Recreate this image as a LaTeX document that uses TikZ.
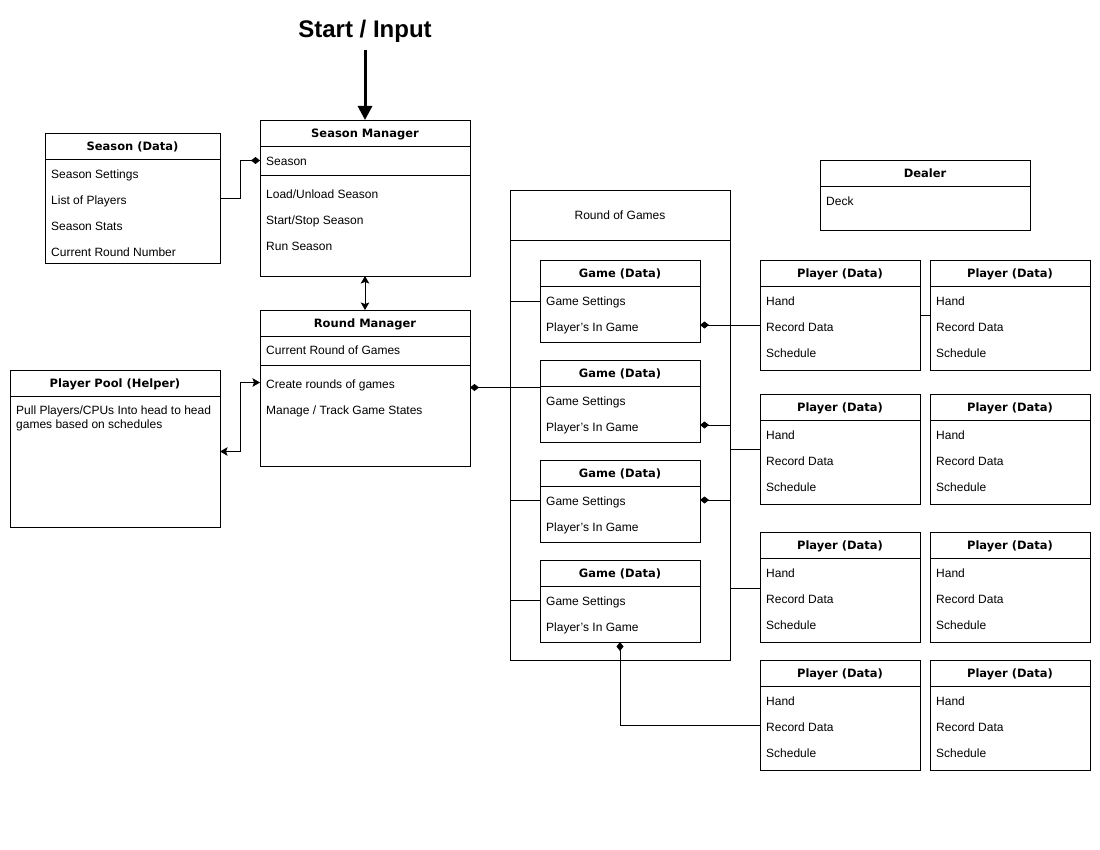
\documentclass[tikz,border=0pt]{standalone}
\usepackage{fontspec}
\setmainfont{Liberation Sans}
\newfontfamily\headfont{DejaVu Sans}
\usetikzlibrary{arrows.meta, positioning}

\begin{document}
\begin{tikzpicture}[x=1pt, y=-1pt,
    head/.style={draw, line width=0.9pt, fill=white, outer sep=0, inner sep=0, minimum height=26, text height=8.6pt, text depth=0pt, font=\headfont\bfseries\fontsize{11.5}{13}\selectfont},
    body/.style={draw, line width=0.9pt, fill=white, outer sep=0, inner sep=0},
    rows/.style={anchor=north west, inner sep=0, align=left, font=\fontsize{12}{26}\selectfont},
    link/.style={line width=0.9pt},
    owns/.style={link, {Diamond[length=9pt,width=7pt]}-},
    both/.style={link, {Stealth[length=7.5pt,width=8.5pt,inset=1.5pt]}-{Stealth[length=7.5pt,width=8.5pt,inset=1.5pt]}}
  ]
    \useasboundingbox (0,0) rectangle (1100,850);

    % entry point
    \node[font=\bfseries\fontsize{24}{28}\selectfont] (start) at (365,31) {Start / Input};

    % season side
    \node[head, minimum width=210, anchor=north west] (smh) at (260,120) {Season Manager};
    \node[body, minimum width=210, minimum height=29, below=0pt of smh] (sma) {};
    \node[body, minimum width=210, minimum height=101, below=0pt of sma] (smb) {};
    \node[rows] (smat) at ([xshift=6, yshift=-10.5]sma.north west) {Season};
    \node[rows] (smbt) at ([xshift=6, yshift=-14.5]smb.north west) {Load/Unload Season\\Start/Stop Season\\Run Season};

    \node[head, minimum width=175, anchor=north west] (sdh) at (45,133) {Season (Data)};
    \node[body, minimum width=175, minimum height=104, below=0pt of sdh] (sdb) {};
    \node[rows] (sdt) at ([xshift=6, yshift=-10.5]sdb.north west) {Season Settings\\List of Players\\Season Stats\\Current Round Number};

    % round side
    \node[head, minimum width=210, anchor=north west] (rmh) at (260,310) {Round Manager};
    \node[body, minimum width=210, minimum height=29, below=0pt of rmh] (rma) {};
    \node[body, minimum width=210, minimum height=101, below=0pt of rma] (rmb) {};
    \node[rows] (rmat) at ([xshift=6, yshift=-9.5]rma.north west) {Current Round of Games};
    \node[rows] (rmbt) at ([xshift=6, yshift=-14.5]rmb.north west) {Create rounds of games\\Manage / Track Game States};

    \node[head, minimum width=210, anchor=north west] (pph) at (10,370) {Player Pool (Helper)};
    \node[body, minimum width=210, minimum height=131, below=0pt of pph] (ppb) {};
    \node[rows, font=\fontsize{12}{14}\selectfont] (ppt) at ([xshift=6, yshift=-10]ppb.north west) {Pull Players/CPUs Into head to head\\games based on schedules};

    % round of games container
    \node[body, minimum width=220, minimum height=50, anchor=north west, font=\fontsize{12}{14}\selectfont] (rgh) at (510,190) {Round of Games};
    \node[body, minimum width=220, minimum height=420, below=0pt of rgh] (rgb) {};

    \node[head, minimum width=160, anchor=north west] (g1h) at (540,260) {Game (Data)};
    \node[body, minimum width=160, minimum height=56, below=0pt of g1h] (g1b) {};
    \node[rows] (g1t) at ([xshift=6, yshift=-10.5]g1b.north west) {Game Settings\\Player's In Game};
    \node[head, minimum width=160, anchor=north west] (g2h) at (540,360) {Game (Data)};
    \node[body, minimum width=160, minimum height=56, below=0pt of g2h] (g2b) {};
    \node[rows] (g2t) at ([xshift=6, yshift=-10.5]g2b.north west) {Game Settings\\Player's In Game};
    \node[head, minimum width=160, anchor=north west] (g3h) at (540,460) {Game (Data)};
    \node[body, minimum width=160, minimum height=56, below=0pt of g3h] (g3b) {};
    \node[rows] (g3t) at ([xshift=6, yshift=-10.5]g3b.north west) {Game Settings\\Player's In Game};
    \node[head, minimum width=160, anchor=north west] (g4h) at (540,560) {Game (Data)};
    \node[body, minimum width=160, minimum height=56, below=0pt of g4h] (g4b) {};
    \node[rows] (g4t) at ([xshift=6, yshift=-10.5]g4b.north west) {Game Settings\\Player's In Game};

    % dealer
    \node[head, minimum width=210, anchor=north west] (dlh) at (820,160) {Dealer};
    \node[body, minimum width=210, minimum height=44, below=0pt of dlh] (dlb) {};
    \node[rows] (dlt) at ([xshift=6, yshift=-10.5]dlb.north west) {Deck};

    % players
    \node[head, minimum width=160, anchor=north west] (p11h) at (760,260) {Player (Data)};
    \node[body, minimum width=160, minimum height=84, below=0pt of p11h] (p11b) {};
    \node[rows] (p11t) at ([xshift=6, yshift=-10.5]p11b.north west) {Hand\\Record Data\\Schedule};
    \node[head, minimum width=160, anchor=north west] (p12h) at (930,260) {Player (Data)};
    \node[body, minimum width=160, minimum height=84, below=0pt of p12h] (p12b) {};
    \node[rows] (p12t) at ([xshift=6, yshift=-10.5]p12b.north west) {Hand\\Record Data\\Schedule};

    \node[head, minimum width=160, anchor=north west] (p21h) at (760,394) {Player (Data)};
    \node[body, minimum width=160, minimum height=84, below=0pt of p21h] (p21b) {};
    \node[rows] (p21t) at ([xshift=6, yshift=-10.5]p21b.north west) {Hand\\Record Data\\Schedule};
    \node[head, minimum width=160, anchor=north west] (p22h) at (930,394) {Player (Data)};
    \node[body, minimum width=160, minimum height=84, below=0pt of p22h] (p22b) {};
    \node[rows] (p22t) at ([xshift=6, yshift=-10.5]p22b.north west) {Hand\\Record Data\\Schedule};

    \node[head, minimum width=160, anchor=north west] (p31h) at (760,532) {Player (Data)};
    \node[body, minimum width=160, minimum height=84, below=0pt of p31h] (p31b) {};
    \node[rows] (p31t) at ([xshift=6, yshift=-10.5]p31b.north west) {Hand\\Record Data\\Schedule};
    \node[head, minimum width=160, anchor=north west] (p32h) at (930,532) {Player (Data)};
    \node[body, minimum width=160, minimum height=84, below=0pt of p32h] (p32b) {};
    \node[rows] (p32t) at ([xshift=6, yshift=-10.5]p32b.north west) {Hand\\Record Data\\Schedule};

    \node[head, minimum width=160, anchor=north west] (p41h) at (760,660) {Player (Data)};
    \node[body, minimum width=160, minimum height=84, below=0pt of p41h] (p41b) {};
    \node[rows] (p41t) at ([xshift=6, yshift=-10.5]p41b.north west) {Hand\\Record Data\\Schedule};
    \node[head, minimum width=160, anchor=north west] (p42h) at (930,660) {Player (Data)};
    \node[body, minimum width=160, minimum height=84, below=0pt of p42h] (p42b) {};
    \node[rows] (p42t) at ([xshift=6, yshift=-10.5]p42b.north west) {Hand\\Record Data\\Schedule};

    % connectors
    \draw[line width=3pt, -{Triangle[length=14pt,width=14pt]}, shorten <=4pt] (start.south) -- (smh.north);
    \coordinate (sdout) at ([yshift=13]sdb.east);
    \draw[owns] (sma.west) -- ++(-20,0) |- (sdout);
    \draw[both] (smb.south) -- (rmh.north);

    \coordinate (rmin) at ([yshift=33]rmb.west);
    \coordinate (ppin) at ([yshift=10]ppb.east);
    \draw[both] (rmin) -- ++(-20,0) |- (ppin);

    \coordinate (rmout) at ([yshift=28]rmb.east);
    \draw[owns] (rmout) -- (rmout -| g2b.west);

    \draw[link] ([yshift=13]g1b.west) coordinate (q1) -- (q1 -| rgb.west);
    \draw[link] ([yshift=14]g3b.west) coordinate (q3) -- (q3 -| rgb.west);
    \draw[link] ([yshift=14]g4b.west) coordinate (q4) -- (q4 -| rgb.west);

    \coordinate (g1out) at ([yshift=-11]g1b.east);
    \draw[owns] (g1out) -- (g1out -| p11b.west);
    \coordinate (g2out) at ([yshift=-11]g2b.east);
    \coordinate (p21in) at ([yshift=13]p21b.west);
    \draw[owns] (g2out) -- (g2out -| rgb.east) |- (p21in);
    \coordinate (g3out) at ([yshift=14]g3b.east);
    \coordinate (p31in) at ([yshift=12]p31b.west);
    \draw[owns] (g3out) -- (g3out -| rgb.east) |- (p31in);
    \draw[owns] (g4b.south) |- ([yshift=3]p41b.west);

    \draw[link] ([yshift=13]p11b.east) coordinate (r1) -- (r1 -| p12b.west);
  \end{tikzpicture}
\end{document}
